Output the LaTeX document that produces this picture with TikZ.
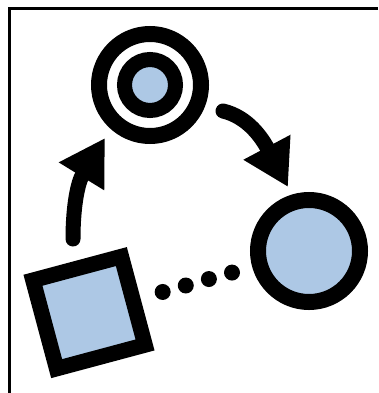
\documentclass[tikz,border=0pt]{standalone}
\usetikzlibrary{arrows.meta}
\definecolor{cellblue}{RGB}{173,200,229}

\begin{document}
\begin{tikzpicture}[x=1pt, y=-1pt,
          ring/.style={circle, draw, inner sep=0pt, minimum size=102pt, line width=16pt},
          core/.style={circle, draw, fill=cellblue, inner sep=0pt, minimum size=51pt, line width=15pt},
          box/.style={rectangle, draw, fill=cellblue, inner sep=0pt, minimum size=91.5pt, line width=15.5pt, rotate=15},
          flow/.style={line width=15pt, line cap=round, -{Triangle[length=45pt,width=50pt]}},
          link/.style={line width=16pt, line cap=round, dash pattern=on 0pt off 24pt}]
        \useasboundingbox (0,0) rectangle (378,393);
        \draw[line width=3pt] (9,393) -- (9,9) -- (378,9);
        % nodes
        \node[ring, fill=white] (tgt) at (150,85) {};
        \node[core] (tgtcore) at (tgt) {};
        \node[ring, fill=cellblue] (rc) at (309,251) {};
        \node[box] (sq) at (89,312.6) {};
        % arrows
        \coordinate (upA) at (73,239);
        \coordinate (upB) at (105,138);
        \coordinate (dnA) at (223,111);
        \coordinate (dnB) at (288,187);
        \draw[flow] (upA) .. controls (73,205) and (78,182) .. (upB);
        \draw[flow] (dnA) .. controls (248,117) and (262,138) .. (dnB);
        \draw[link, shorten <=23pt, shorten >=12pt] (sq) -- (rc);
      \end{tikzpicture}
\end{document}
